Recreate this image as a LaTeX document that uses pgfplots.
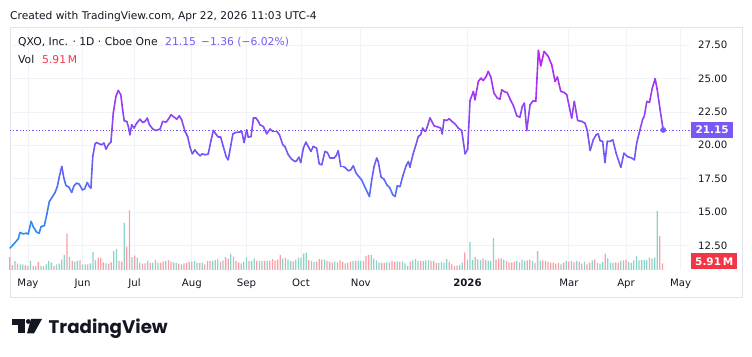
\documentclass[border=0pt]{standalone}
\usepackage{fontspec}
\setmainfont{DejaVu Sans}
\newfontfamily\logofont{Poppins}
\usepackage{pgfplots}
\pgfplotsset{compat=1.18}
\usepackage{pgfplotstable}

\definecolor{tvgrid}{RGB}{240,243,250}
\definecolor{tvtext}{RGB}{19,23,34}
\definecolor{tvpurple}{RGB}{122,88,246}
\definecolor{tvred}{RGB}{242,54,69}
\definecolor{volup}{RGB}{140,212,200}
\definecolor{voldown}{RGB}{247,160,166}
\definecolor{panel}{RGB}{224,227,235}

\pgfplotsset{colormap={tv}{rgb255=(33,150,243) rgb255=(118,84,246) rgb255=(192,32,240)}}

\pgfplotstableread{
i p
-6.9 12.29
-5.0 12.70
-3.7 13.00
-3.1 13.46
-1.8 13.36
-0.5 13.41
0.1 13.34
1.2 14.29
2.0 13.90
3.3 13.49
4.3 13.41
5.0 13.90
6.3 13.98
7.2 14.79
8.2 15.78
9.3 16.11
10.4 16.46
11.3 16.91
12.0 17.61
13.0 18.41
13.8 17.54
14.6 16.98
15.8 16.86
16.8 16.46
17.7 16.96
18.7 17.16
19.7 17.09
20.9 16.66
21.7 16.71
22.8 17.21
23.6 16.91
24.2 16.79
24.9 19.16
25.8 20.11
26.4 20.21
27.4 20.11
28.3 20.04
29.2 20.17
30.0 19.71
30.9 20.04
31.9 20.24
32.8 22.42
33.8 23.66
34.7 24.11
35.7 23.79
36.4 22.66
37.0 21.84
38.0 21.79
38.6 21.41
39.2 20.79
39.9 21.54
40.8 21.29
41.8 21.66
43.1 21.96
44.1 21.71
45.0 21.79
45.9 22.04
46.7 21.54
48.0 21.22
49.2 21.11
50.8 21.22
51.8 21.79
53.1 21.74
54.0 21.96
55.0 22.29
56.2 22.11
57.2 21.96
58.2 22.21
59.1 21.91
60.4 21.04
61.4 20.66
62.3 19.86
63.2 19.36
64.2 19.66
65.1 19.41
66.2 19.21
67.0 19.36
68.1 19.29
69.3 19.34
70.3 20.29
71.3 21.11
72.2 20.86
73.2 20.61
74.1 20.61
75.1 19.91
76.2 19.16
77.0 18.91
78.8 20.85
79.8 20.96
81.3 20.99
82.2 21.04
83.1 20.21
84.1 21.16
84.7 20.61
85.8 20.66
86.7 22.04
87.7 22.04
88.6 21.79
89.2 21.54
90.5 21.41
91.8 20.86
93.1 21.22
94.1 21.04
95.7 21.04
96.7 20.79
98.0 20.04
98.8 19.91
100.1 19.29
101.4 18.96
102.7 18.78
103.3 18.84
104.2 19.11
104.9 18.71
105.9 19.79
106.9 20.24
108.1 19.79
108.8 19.54
109.7 19.91
111.0 19.79
112.0 18.61
113.0 18.54
114.2 19.54
115.1 19.46
116.2 19.04
117.7 19.04
118.5 19.21
119.3 19.59
120.3 18.41
121.3 18.41
122.2 18.29
123.2 18.09
124.1 18.16
125.1 18.46
126.2 17.91
127.0 17.71
128.3 17.41
129.6 16.86
131.3 16.16
132.2 17.41
133.1 18.41
134.1 19.04
134.7 18.78
135.8 17.61
136.9 17.46
138.0 17.04
139.2 16.79
140.3 16.29
141.2 16.16
142.0 16.96
143.1 16.91
144.1 17.66
145.4 18.46
146.3 18.78
146.9 18.36
148.0 19.29
149.2 20.04
150.1 20.66
151.0 20.79
151.8 21.29
152.7 21.04
153.1 21.11
154.6 22.05
156.2 21.46
157.8 21.36
158.7 21.29
159.3 20.86
160.0 21.91
161.0 21.86
162.0 21.99
163.0 21.79
164.2 21.61
165.5 21.29
166.8 21.11
168.1 19.36
169.1 19.71
170.0 23.36
171.3 24.04
171.9 23.41
173.2 24.79
174.2 25.04
175.1 24.86
176.2 25.16
177.0 25.54
178.0 25.12
179.2 23.91
180.5 23.54
181.5 23.46
182.2 24.16
183.5 23.99
184.3 23.96
185.4 23.46
186.7 22.96
188.0 22.21
189.2 22.11
190.1 22.91
190.9 23.16
191.8 21.11
193.1 23.04
194.3 23.34
195.3 23.29
196.3 27.11
197.2 25.96
198.5 27.04
200.1 26.66
201.4 26.04
202.7 24.79
203.6 25.12
204.9 24.04
206.2 23.96
207.2 23.79
209.1 22.04
210.1 23.29
211.4 21.86
213.0 21.79
214.2 21.66
215.1 21.11
216.2 19.61
217.4 20.41
218.5 20.79
219.3 20.86
220.0 20.35
221.0 20.29
221.9 18.70
222.8 20.30
223.8 20.29
224.9 20.41
226.2 19.40
228.0 18.35
229.2 19.41
230.5 19.16
232.2 19.04
233.2 18.91
234.1 20.17
235.1 20.96
236.4 21.96
237.0 22.16
238.0 23.29
239.0 23.21
240.1 24.29
241.2 24.99
242.0 24.16
243.1 22.66
244.3 21.15
}\pricedata

\pgfplotstableread{
i v
-7 11.5
-6 4.4
-4 5.6
-1 4.1
0 3.5
2 3.5
3 3.5
4 7.1
6 3.5
10 3.5
15 32.2
17 8.0
20 8.6
23 5.0
27 10.9
28 10.9
29 6.8
31 5.6
32 6.8
35 8.0
36 7.4
38 20.6
39 52.8
41 12.7
44 5.6
45 5.9
47 6.2
49 8.8
51 6.5
52 7.4
54 8.8
55 7.4
58 5.6
60 5.9
61 6.5
62 7.1
63 7.4
66 6.2
68 5.0
69 8.0
70 8.0
74 7.4
76 11.5
77 10.0
80 8.0
81 6.8
85 8.0
88 8.0
91 8.0
93 8.0
94 9.7
95 8.6
96 9.1
97 13.3
99 10.9
102 7.7
108 8.8
111 7.4
112 9.7
113 9.1
115 8.0
116 7.4
117 6.5
119 6.5
120 8.6
121 7.1
123 6.2
124 7.4
126 8.0
129 8.0
130 12.4
131 13.3
136 6.2
137 6.2
139 6.8
140 8.0
141 7.4
143 7.1
147 7.4
151 8.0
155 8.0
156 8.0
157 6.2
162 7.4
163 5.0
164 3.5
165 3.8
168 15.6
172 11.5
175 10.3
180 9.1
181 10.0
182 10.3
184 8.0
185 6.8
186 6.8
187 7.1
189 6.8
192 8.6
193 9.1
195 6.2
198 8.6
199 8.0
200 7.4
201 6.5
202 6.5
203 5.6
204 6.2
206 6.5
208 7.4
210 6.8
212 7.1
213 5.6
215 5.0
216 6.5
218 9.4
222 14.5
226 6.8
227 6.2
229 8.6
230 9.1
239 10.9
243 30.1
244 5.91
}\voldowndata

\pgfplotstableread{
i v
-5 8.0
-3 5.0
-2 5.0
1 8.0
5 3.5
7 5.0
8 8.0
9 6.5
11 5.0
12 5.6
13 9.4
14 13.3
16 11.5
18 7.4
19 8.0
21 5.0
22 5.0
24 5.9
25 15.9
26 8.8
30 5.9
33 16.8
34 18.6
37 41.6
40 11.5
42 10.9
43 6.5
46 8.0
48 6.5
50 6.5
53 8.0
56 6.8
57 6.2
59 5.0
64 8.0
65 6.5
67 6.5
71 8.0
72 8.8
73 9.7
75 8.6
78 14.2
79 11.8
82 5.9
83 7.4
84 11.5
86 8.0
87 10.3
89 8.0
90 8.0
92 8.0
98 10.0
100 9.1
101 8.0
103 9.1
104 10.9
105 10.9
106 14.5
107 15.3
109 8.0
110 7.1
114 9.1
118 7.4
122 5.9
125 8.0
127 8.0
128 8.0
132 13.3
133 10.3
134 8.6
135 6.8
138 6.8
142 7.4
144 7.4
145 5.9
146 3.5
148 8.6
149 9.7
150 8.0
152 8.0
153 8.6
154 8.8
158 6.2
159 7.1
160 6.5
161 9.7
166 4.4
167 6.5
169 9.1
170 24.8
171 8.8
173 9.4
174 8.8
176 9.1
177 8.0
178 8.0
179 28.3
183 9.1
188 8.0
190 9.1
191 8.0
194 8.0
196 16.8
197 8.0
205 5.0
207 8.0
209 8.0
211 8.0
214 7.4
217 8.6
219 6.2
220 5.6
221 7.1
223 10.3
224 6.5
225 6.2
228 8.0
231 7.1
232 6.2
233 8.6
234 12.4
235 8.6
236 8.8
237 8.8
238 8.6
240 10.0
241 10.9
242 52.2
}\volupdata

\pgfplotsset{tvbase/.style={at={(10bp,87bp)}, anchor=south west, width=680bp, height=243bp,
  scale only axis, xmin=-6.92, xmax=254.6}}

\begin{document}
\begin{tikzpicture}
\useasboundingbox (0bp,0bp) rectangle (752bp,357bp);
\begin{scope}[x=1bp,y=1bp]
\fill[white] (0,0) rectangle (752,357);
\draw[panel, line width=0.8bp] (10,60) rectangle (742,330);
\end{scope}

% grid and tick labels
\begin{axis}[tvbase, ymin=10.65, ymax=28.87,
  axis line style={draw=none}, major tick length=0pt,
  xtick={0,21,41,63,84,105,128,169,208,230,251},
  xticklabels={May,Jun,Jul,Aug,Sep,Oct,Nov,\textbf{2026},Mar,Apr,May},
  ytick={12.5,15,17.5,20,22.5,25,27.5},
  yticklabels={12.50,15.00,17.50,20.00,22.50,25.00,27.50},
  yticklabel pos=right,
  grid=major, grid style={tvgrid, line width=0.8bp},
  tick label style={font=\fontsize{10.2}{12}\selectfont, text=tvtext},
  yticklabel style={anchor=west, inner sep=0pt, xshift=8bp},
  xticklabel style={anchor=base, inner sep=0pt, yshift=-17bp},
]
\addplot[draw=none] coordinates {(0,20)};
\end{axis}

% volume
\begin{axis}[tvbase, ymin=0, ymax=215, hide axis, clip=false]
\addplot[ybar, bar width=0.5, bar shift=0pt, fill=volup, draw=none] table[x=i,y=v]{\volupdata};
\addplot[ybar, bar width=0.5, bar shift=0pt, fill=voldown, draw=none] table[x=i,y=v]{\voldowndata};
\node[anchor=west, fill=tvred, text=white, inner sep=0pt, minimum width=46bp, minimum height=16bp,
  font=\bfseries\fontsize{10.5}{12}\selectfont, xshift=1bp, yshift=2bp] at (axis cs:254.6,5.91) {5.91\,M};
\end{axis}

% price
\begin{axis}[tvbase, ymin=10.65, ymax=28.87, hide axis, clip=false,
  colormap name=tv, point meta min=12.3, point meta max=27.1]
\addplot[tvpurple, line width=0.8bp, dash pattern=on 1.2bp off 2bp] coordinates {(-6.92,21.15) (254.6,21.15)};
\addplot[mesh, point meta=y, line width=1.6bp, line join=round, line cap=round] table[x=i,y=p]{\pricedata};
\addplot[only marks, mark=*, mark size=2.6bp, mark options={fill=tvpurple, draw=tvpurple}] coordinates {(244.3,21.15)};
\node[anchor=west, fill=tvpurple, text=white, inner sep=0pt, minimum width=42bp, minimum height=16bp,
  font=\bfseries\fontsize{10.5}{12}\selectfont, xshift=1bp] at (axis cs:254.6,21.15) {21.15};
\end{axis}

\begin{scope}[x=1bp,y=1bp]
% header
\node[anchor=base west, inner sep=0pt, text=tvtext, font=\fontsize{10.7}{12}\selectfont] at (10,338) {Created with TradingView.com, Apr 22, 2026 11:03 UTC-4};
\node[anchor=base west, inner sep=0pt, text=tvtext, font=\fontsize{10.8}{12}\selectfont] at (18,311.5) {QXO, Inc. · 1D · Cboe One};
\node[anchor=base west, inner sep=0pt, text=tvpurple, font=\fontsize{10.8}{12}\selectfont] at (165,311.5) {21.15\hspace{5bp}−1.36 (−6.02\%)};
\node[anchor=base west, inner sep=0pt, text=tvtext, font=\fontsize{10.8}{12}\selectfont] at (18,293.7) {Vol};
\node[anchor=base west, inner sep=0pt, text=tvred, font=\fontsize{10.8}{12}\selectfont] at (42,293.7) {5.91\,M};
% logo
\fill[tvtext] (12,38) rectangle (25,32);
\fill[tvtext] (18.3,38) rectangle (25,23.7);
\fill[tvtext] (28.3,35.5) circle (2.4);
\fill[tvtext] (31,38) -- (42,38) -- (34,23.7) -- (27,23.7) -- cycle;
\node[anchor=base west, inner sep=0pt, text=tvtext, font=\logofont\bfseries\fontsize{18.3}{22}\selectfont] at (48.5,23.7) {TradingView};
\end{scope}
\end{tikzpicture}
\end{document}
